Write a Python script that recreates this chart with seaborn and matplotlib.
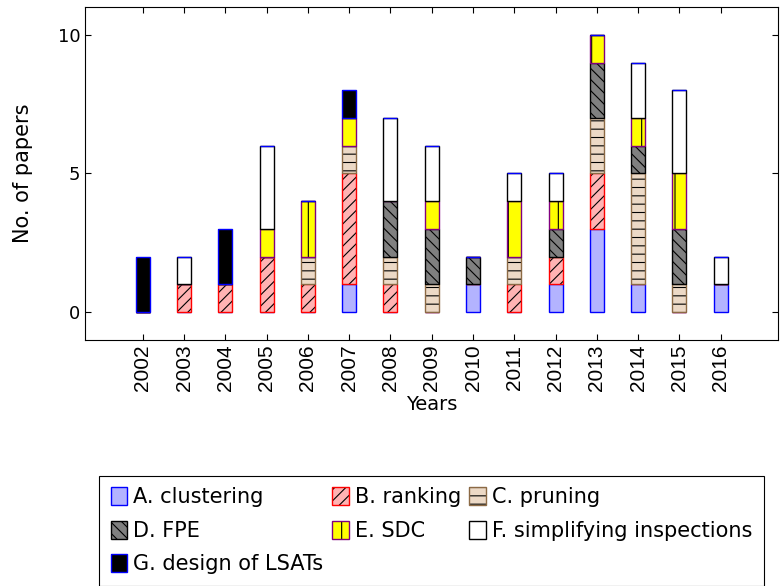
import pandas as pd
import matplotlib
matplotlib.use("Agg")
import matplotlib.pyplot as plt
from matplotlib.patches import Patch
import seaborn as sns

# papers per year and category
years = list(range(2002, 2017))
clustering = [0, 0, 0, 0, 0, 1, 0, 0, 1, 0, 1, 3, 1, 0, 1]
ranking = [0, 1, 1, 2, 1, 4, 1, 0, 0, 1, 1, 2, 0, 0, 0]
pruning = [0, 0, 0, 0, 1, 1, 1, 1, 0, 1, 0, 2, 4, 1, 0]
fpe = [0, 0, 0, 0, 0, 0, 2, 2, 1, 0, 1, 2, 1, 2, 0]
sdc = [0, 0, 0, 1, 2, 1, 0, 1, 0, 2, 1, 1, 1, 2, 0]
simplifying = [0, 1, 0, 3, 0, 0, 3, 2, 0, 1, 1, 0, 2, 3, 1]
lsat = [2, 0, 2, 0, 0, 1, 0, 0, 0, 0, 0, 0, 0, 0, 0]

labels = ["A. clustering", "B. ranking", "C. pruning", "D. FPE",
          "E. SDC", "F. simplifying inspections", "G. design of LSATs"]
series = [clustering, ranking, pruning, fpe, sdc, simplifying, lsat]
fills = ["#b3b3ff", "#ffb3b3", "#ecd9c6", "#808080", "#ffff00", "#ffffff", "#000000"]
edges = ["#0000ff", "#ff0000", "#8c6a45", "#000000", "#800080", "#000000", "#0000ff"]
hatches = [None, "///", "--", "\\\\\\", "|", None, None]

plt.rcParams["font.family"] = ["DejaVu Sans"]
plt.rcParams["font.size"] = 13
plt.rcParams["hatch.linewidth"] = 0.8

fig = plt.figure(figsize=(7.8, 5.86), dpi=100)
ax = fig.add_axes([0.109, 0.42, 0.889, 0.568])

bottom = [0] * len(years)
for vals, fc, ec, h in zip(series, fills, edges, hatches):
    df = pd.DataFrame({"year": years, "n": vals})
    # fill + black hatch
    sns.barplot(data=df, x="year", y="n", native_scale=True, width=0.34,
                color=fc, saturation=1, errorbar=None, ax=ax,
                bottom=bottom, hatch=h, edgecolor="black", linewidth=0)
    # coloured outline
    sns.barplot(data=df, x="year", y="n", native_scale=True, width=0.34,
                color=fc, saturation=1, errorbar=None, ax=ax,
                bottom=bottom, facecolor="none", edgecolor=ec, linewidth=1)
    bottom = [b + v for b, v in zip(bottom, vals)]

ax.set_xlim(2000.6, 2017.4)
ax.set_ylim(-1, 11)
ax.set_xticks(years)
ax.set_xticklabels([str(y) for y in years], rotation=90,
                   family="Liberation Sans", fontsize=15)
ax.set_yticks([0, 5, 10])
ax.tick_params(direction="in", top=True, right=True, length=4)
for t in ax.xaxis.get_major_ticks() + ax.yaxis.get_major_ticks():
    t.tick2line.set_color("#999999")
ax.set_xlabel("Years", fontsize=14)
ax.xaxis.set_label_coords(0.5, -0.165)
ax.set_ylabel("No. of papers", fontsize=15)
ax.yaxis.set_label_coords(-0.075, 0.5)

handles = [(Patch(facecolor=fc, edgecolor="black", linewidth=0, hatch=h),
            Patch(facecolor="none", edgecolor=ec, linewidth=1))
           for fc, ec, h in zip(fills, edges, hatches)]
order = [0, 3, 6, 1, 4, 2, 5]
leg = fig.legend([handles[i] for i in order], [labels[i] for i in order],
                 ncols=3, loc="upper left", bbox_to_anchor=(0.127, 0.188),
                 bbox_transform=fig.transFigure, borderaxespad=0,
                 fontsize=15, handlelength=0.8, handleheight=0.95,
                 handletextpad=0.3, columnspacing=0.4, labelspacing=0.64,
                 borderpad=0.55, fancybox=False, edgecolor="black", framealpha=1)
leg.get_frame().set_linewidth(0.8)

fig.savefig("out.png", dpi=100)
